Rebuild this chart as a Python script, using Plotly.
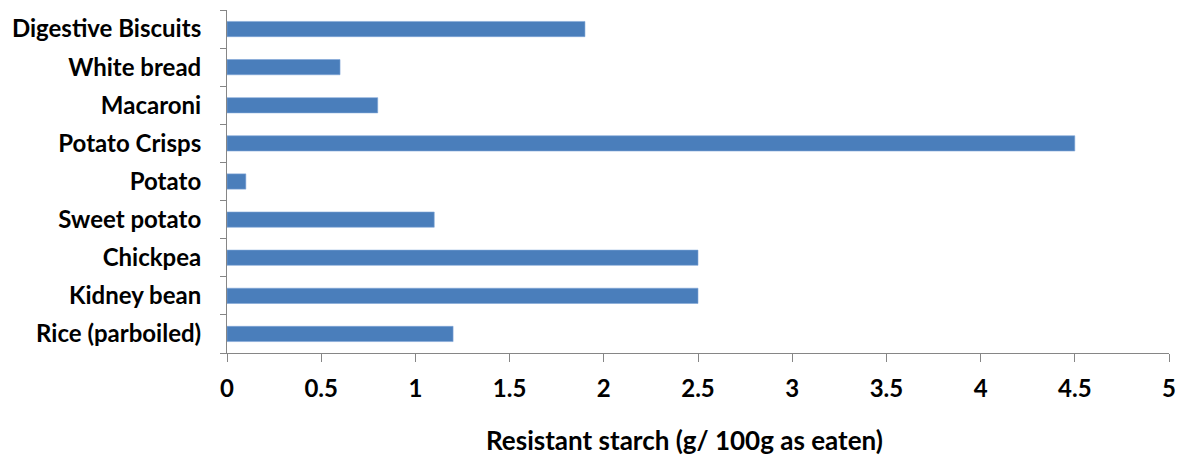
import plotly.graph_objects as go

categories = ["Digestive Biscuits", "White bread", "Macaroni", "Potato Crisps", "Potato",
              "Sweet potato", "Chickpea", "Kidney bean", "Rice (parboiled)"]
values = [1.9, 0.6, 0.8, 4.5, 0.1, 1.1, 2.5, 2.5, 1.2]
x_ticks = [0, 0.5, 1, 1.5, 2, 2.5, 3, 3.5, 4, 4.5, 5]
x_title = "Resistant starch (g/ 100g as eaten)"

FONT = "Lato"
TICK_SIZE = 24
TITLE_SIZE = 26

fig = go.Figure(go.Bar(
    x=values, y=categories, orientation="h",
    marker=dict(color="#4A7EBB", line=dict(color="#7FA6D6", width=0.6)),
))

L, R, T, B = 227, 8, 10, 103
W, H = 1177, 456

fig.update_layout(
    width=W, height=H,
    margin=dict(l=L, r=R, t=T, b=B),
    paper_bgcolor="white", plot_bgcolor="white",
    bargap=0.6, showlegend=False,
    font=dict(family=FONT, size=TICK_SIZE, color="black"),
    xaxis=dict(range=[0, 5], tickvals=x_ticks, ticktext=[str(t) for t in x_ticks],
               showgrid=False, zeroline=False, showline=True, linecolor="#868686", linewidth=1,
               ticks="outside", ticklen=8, tickcolor="#868686", automargin=False,
               ticklabelstandoff=6,
               tickfont=dict(family=FONT, size=TICK_SIZE, color="black", weight="bold"),
               fixedrange=True),
    yaxis=dict(categoryorder="array", categoryarray=categories[::-1],
               showgrid=False, showline=True, linecolor="#868686", linewidth=1,
               ticks="outside", ticklen=6, tickcolor="#868686", tickson="boundaries",
               ticklabelstandoff=20, automargin=False,
               tickfont=dict(family=FONT, size=TICK_SIZE, color="black", weight="bold")),
)

pw = W - L - R
ph = H - T - B
fig.add_annotation(text=x_title, x=(684 - L) / pw, y=(H - B - 440) / ph,
                   xref="paper", yref="paper", xanchor="center", yanchor="middle",
                   showarrow=False,
                   font=dict(family=FONT, size=TITLE_SIZE, color="black", weight="bold"))

fig.write_html("out.html")
